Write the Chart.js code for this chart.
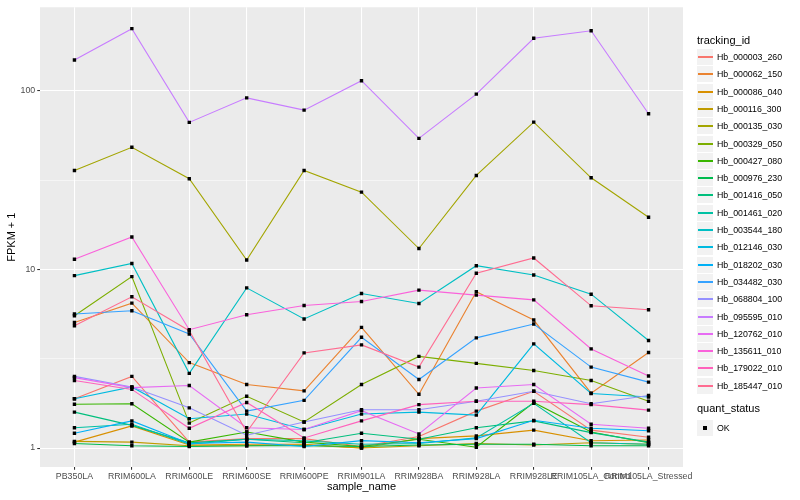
<!DOCTYPE html>
<html>
<head>
<meta charset="utf-8">
<script src="https://cdn.jsdelivr.net/npm/chart.js@4"></script>
<style>
  body { margin: 0; background: #fff; font-family: "Liberation Sans", Arial, sans-serif; }
  #wrap { position: relative; width: 800px; height: 500px; }
  #legend { position: absolute; left: 697px; top: 0; }
  .ttl { position: absolute; left: 0; font-size: 11px; line-height: 13px; color: #000; white-space: nowrap; }
  .row { position: absolute; left: 0; height: 17px; width: 110px; }
  .key { position: absolute; left: 0; top: 0; width: 16px; height: 16px; background: #F2F2F2; border-right: 1px solid #fff; border-bottom: 1px solid #fff; }
  .key i { position: absolute; left: 1px; width: 15px; top: 7px; height: 2px; }
  .key b { position: absolute; left: 6px; top: 6px; width: 4px; height: 4px; background: #000; }
  .lab { position: absolute; left: 20px; top: 0; font-size: 8.8px; line-height: 17px; color: #000; white-space: nowrap; }
</style>
</head>
<body>
<div id="wrap">
  <canvas id="chart" width="800" height="500"></canvas>
  <div id="legend"></div>
</div>
<script>
const categories = ['PB350LA', 'RRIM600LA', 'RRIM600LE', 'RRIM600SE', 'RRIM600PE', 'RRIM901LA',
  'RRIM928BA', 'RRIM928LA', 'RRIM928LE', 'RRIM105LA_Control', 'RRIM105LA_Stressed']

const trackingIds = ['Hb_000003_260', 'Hb_000062_150', 'Hb_000086_040', 'Hb_000116_300', 'Hb_000135_030',
  'Hb_000329_050', 'Hb_000427_080', 'Hb_000976_230', 'Hb_001416_050', 'Hb_001461_020',
  'Hb_003544_180', 'Hb_012146_030', 'Hb_018202_030', 'Hb_034482_030', 'Hb_068804_100',
  'Hb_095595_010', 'Hb_120762_010', 'Hb_135611_010', 'Hb_179022_010', 'Hb_185447_010']

// FPKM + 1 per sample
const hb_000003_260 = [1.89, 2.52, 1.08, 1.13, 1.13, 1.02, 1.16, 1.61, 2.08, 1.26, 1.15]
const hb_000062_150 = [5.05, 6.48, 3.01, 2.27, 2.09, 4.74, 2.00, 7.50, 5.21, 2.03, 3.43]
const hb_000086_040 = [1.08, 1.33, 1.04, 1.05, 1.05, 1.00, 1.13, 1.17, 1.26, 1.10, 1.11]
const hb_000116_300 = [1.09, 1.08, 1.03, 1.03, 1.04, 1.00, 1.03, 1.06, 1.04, 1.07, 1.05]
const hb_000135_030 = [35.8, 48.3, 32.2, 11.3, 35.8, 27.1, 13.1, 33.6, 66.8, 32.6, 19.6]
const hb_000329_050 = [5.51, 9.12, 1.38, 1.95, 1.40, 2.27, 3.26, 2.98, 2.72, 2.39, 1.83]
const hb_000427_080 = [1.76, 1.77, 1.08, 1.23, 1.08, 1.02, 1.12, 1.01, 1.80, 1.23, 1.07]
const hb_000976_230 = [1.06, 1.03, 1.02, 1.03, 1.03, 1.02, 1.04, 1.05, 1.05, 1.03, 1.03]
const hb_001416_050 = [1.59, 1.34, 1.07, 1.12, 1.07, 1.21, 1.12, 1.30, 1.42, 1.22, 1.08]
const hb_001461_020 = [1.30, 1.36, 1.05, 1.12, 1.10, 1.05, 1.06, 1.14, 1.78, 1.07, 1.05]
const hb_003544_180 = [9.24, 10.8, 2.62, 7.89, 5.28, 7.33, 6.45, 10.5, 9.31, 7.27, 4.00]
const hb_012146_030 = [1.89, 2.20, 1.46, 1.55, 1.27, 1.55, 1.59, 1.53, 3.83, 2.02, 1.93]
const hb_018202_030 = [1.21, 1.42, 1.06, 1.08, 1.02, 1.10, 1.07, 1.13, 1.43, 1.29, 1.25]
const hb_034482_030 = [5.63, 5.87, 4.35, 1.61, 1.85, 4.17, 2.42, 4.14, 4.95, 2.84, 2.34]
const hb_068804_100 = [2.52, 2.20, 1.68, 1.18, 1.40, 1.64, 1.64, 1.83, 2.08, 1.77, 1.97]
const hb_095595_010 = [149, 223, 66.6, 91.4, 78.0, 114, 54.2, 95.9, 197, 217, 74.5]
const hb_120762_010 = [2.48, 2.18, 2.24, 1.30, 1.27, 1.62, 1.20, 2.17, 2.27, 1.36, 1.29]
const hb_135611_010 = [11.4, 15.2, 4.60, 5.58, 6.29, 6.62, 7.66, 7.18, 6.76, 3.59, 2.53]
const hb_179022_010 = [2.39, 2.13, 1.29, 1.80, 1.14, 1.42, 1.75, 1.83, 1.83, 1.75, 1.63]
const hb_185447_010 = [4.84, 7.03, 4.54, 1.23, 3.41, 3.78, 2.84, 9.52, 11.6, 6.26, 5.95]

const seriesValues = [hb_000003_260, hb_000062_150, hb_000086_040, hb_000116_300, hb_000135_030,
  hb_000329_050, hb_000427_080, hb_000976_230, hb_001416_050, hb_001461_020,
  hb_003544_180, hb_012146_030, hb_018202_030, hb_034482_030, hb_068804_100,
  hb_095595_010, hb_120762_010, hb_135611_010, hb_179022_010, hb_185447_010]

const colors = ['#F8766D', '#EA8331', '#D89000', '#C09B00', '#A3A500', '#7CAE00', '#39B600', '#00BB4E',
  '#00BF7D', '#00C1A3', '#00BFC4', '#00BAE0', '#00B0F6', '#35A2FF', '#9590FF', '#C77CFF',
  '#E76BF3', '#FA62DB', '#FF62BC', '#FF6C91']

const yTickValues = [1, 10, 100]
const yMinorValues = [Math.sqrt(10), Math.sqrt(1000)]
const quantStatus = ['OK']

const lineSets = seriesValues.map((vals, s) => ({
  label: trackingIds[s],
  data: vals.map((v, i) => ({ x: i, y: v })),
  borderColor: colors[s],
  borderWidth: 1.1,
  pointRadius: 0,
  fill: false,
  tension: 0,
  order: 100 - s
}))

const pointSet = {
  label: quantStatus[0],
  type: 'scatter',
  data: seriesValues.flatMap(vals => vals.map((v, i) => ({ x: i, y: v }))),
  pointStyle: 'rect',
  pointRadius: 2.4,
  backgroundColor: '#000',
  borderWidth: 0,
  showLine: false,
  order: 0
}

const panelBg = {
  id: 'panelBg',
  beforeDraw(chart) {
    const { ctx, chartArea: a } = chart
    ctx.save()
    ctx.fillStyle = '#EBEBEB'
    ctx.fillRect(a.left, a.top, a.right - a.left, a.bottom - a.top)
    ctx.restore()
  }
}

const isMajor = v => yTickValues.some(t => Math.abs(t - v) < 1e-6)
const tickFont = { family: '"Liberation Sans", Arial, sans-serif', size: 8.8 }
const titleFont = { family: '"Liberation Sans", Arial, sans-serif', size: 11 }

new Chart(document.getElementById('chart'), {
  type: 'line',
  data: { datasets: [...lineSets, pointSet] },
  plugins: [panelBg],
  options: {
    responsive: false,
    animation: false,
    events: [],
    layout: { padding: { top: 5, right: 117, left: 0, bottom: 0 } },
    plugins: { legend: { display: false }, tooltip: { enabled: false } },
    scales: {
      x: {
        type: 'linear',
        min: -0.6,
        max: categories.length - 1 + 0.6,
        afterBuildTicks: scale => { scale.ticks = categories.map((_, i) => ({ value: i })) },
        afterFit: scale => { scale.height = 33 },
        ticks: {
          callback: v => categories[v],
          autoSkip: false, maxRotation: 0, minRotation: 0,
          color: '#4D4D4D', font: tickFont, padding: 2
        },
        grid: { color: '#FFFFFF', lineWidth: 1.07, tickLength: 2.75, tickColor: '#333333' },
        border: { display: false },
        title: { display: true, text: 'sample_name', color: '#000', font: titleFont, padding: { top: 0, bottom: 6 } }
      },
      y: {
        type: 'logarithmic',
        min: Math.pow(10, -0.106),
        max: Math.pow(10, 2.468),
        afterBuildTicks: scale => {
          scale.ticks = [...yTickValues, ...yMinorValues].sort((a, b) => a - b).map(v => ({ value: v }))
        },
        afterFit: scale => { scale.width = 40 },
        ticks: {
          callback: v => isMajor(v) ? String(v) : '',
          autoSkip: false, color: '#4D4D4D', font: tickFont, padding: 2
        },
        grid: {
          color: '#FFFFFF',
          lineWidth: ctx => isMajor(ctx.tick.value) ? 1.07 : 0.53,
          tickLength: 2.75,
          tickColor: ctx => isMajor(ctx.tick.value) ? '#333333' : 'rgba(0,0,0,0)'
        },
        border: { display: false },
        title: { display: true, text: 'FPKM + 1', color: '#000', font: titleFont, padding: { top: 5, bottom: 0 } }
      }
    }
  }
})

// legend in the ggplot style: tracking_id keys, then quant_status
const legend = document.getElementById('legend')
const addTitle = (text, top) => {
  const t = document.createElement('div')
  t.className = 'ttl'
  t.style.top = top + 'px'
  t.textContent = text
  legend.appendChild(t)
}
const addRow = (top, label, inner) => {
  const r = document.createElement('div')
  r.className = 'row'
  r.style.top = Math.round(top) + 'px'
  r.innerHTML = '<div class="key">' + inner + '</div><div class="lab"></div>'
  r.querySelector('.lab').textContent = label
  legend.appendChild(r)
}
addTitle('tracking_id', 34)
trackingIds.forEach((id, s) => {
  addRow(49 + s * 17.3, id, '<i style="background:' + colors[s] + '"></i>')
})
addTitle('quant_status', 402)
quantStatus.forEach((q, k) => addRow(420 + k * 17.3, q, '<b></b>'))
</script>
</body>
</html>
